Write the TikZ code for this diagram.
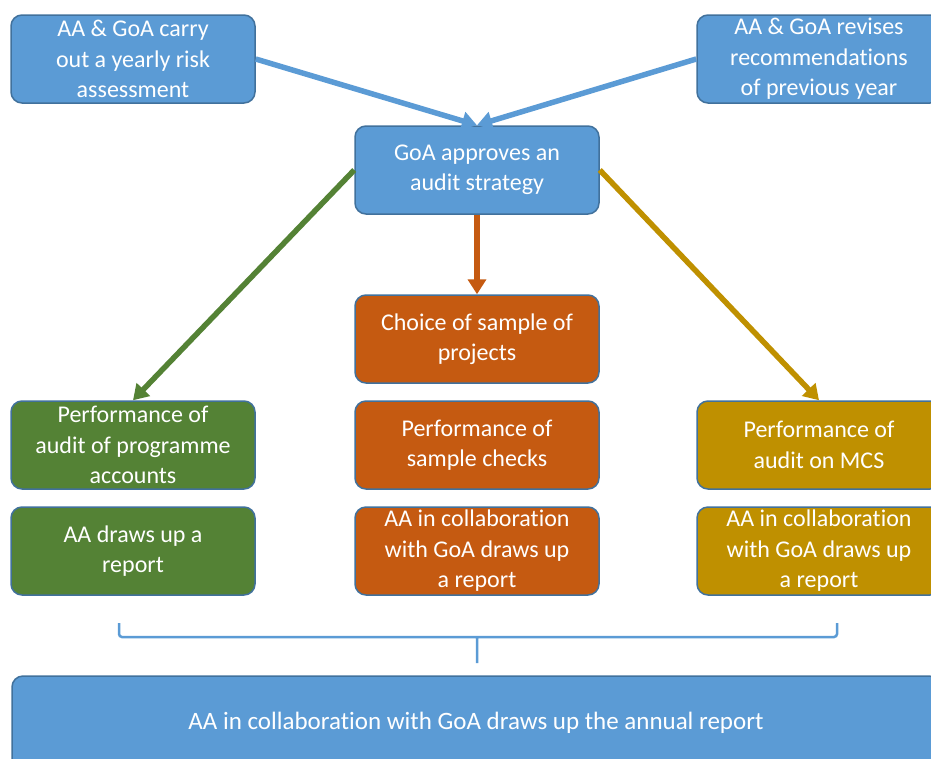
\documentclass[tikz,border=0pt]{standalone}
\usepackage{fontspec}
\setmainfont{Carlito}[Ligatures={NoCommon}]
\usetikzlibrary{arrows.meta,positioning}
\definecolor{accblue}{HTML}{5B9BD5}
\definecolor{accline}{HTML}{41719C}
\definecolor{accgreen}{HTML}{548235}
\definecolor{accorange}{HTML}{C55A11}
\definecolor{accgold}{HTML}{BF9000}
\tikzset{
    stage/.style={rectangle, rounded corners=11pt, draw=accline, line width=1.5pt,
        minimum width=244pt, minimum height=88pt, inner sep=0pt, align=center,
        text=white, font=\fontsize{24}{30.5}\selectfont},
    flow/.style={line width=5.5pt, -{Triangle[width=18pt,length=15pt]}}
}

\begin{document}
\begin{tikzpicture}[x=1pt, y=-1pt]
                        \useasboundingbox (0, 0) rectangle (931, 758);
                        \node[stage, fill=accblue] (risk) at (133, 59) {AA \& GoA carry\\out a yearly risk\\assessment};
                        \node[stage, fill=accblue] (revise) at (819, 59) {AA \& GoA revises\\recommendations\\of previous year};
                        \node[stage, fill=accblue] (strategy) at (477, 170) {GoA approves an\\audit strategy};
                        \node[stage, fill=accorange] (sample) at (477, 339) {Choice of sample of\\projects};
                        \node[stage, fill=accgreen] (progaudit) at (133, 445) {Performance of\\audit of programme\\accounts};
                        \node[stage, fill=accorange] (checks) at (477, 445) {Performance of\\sample checks};
                        \node[stage, fill=accgold] (mcsaudit) at (819, 445) {Performance of\\audit on MCS};
                        \node[stage, fill=accgreen] (progreport) at (133, 551) {AA draws up a\\report};
                        \node[stage, fill=accorange] (checkreport) at (477, 551) {AA in collaboration\\with GoA draws up\\a report};
                        \node[stage, fill=accgold] (mcsreport) at (819, 551) {AA in collaboration\\with GoA draws up\\a report};
                        \node[stage, fill=accblue, minimum width=928pt, minimum height=94pt,
                            font=\fontsize{25}{30}\selectfont] (annual) at (476, 723) {AA in collaboration with GoA draws up the annual report};
                        \draw[flow, accblue] (risk.east) -- (strategy.north);
                        \draw[flow, accblue] (revise.west) -- (strategy.north);
                        \draw[flow, accgreen] (strategy.west) -- (progaudit.north);
                        \draw[flow, accgold] (strategy.east) -- (mcsaudit.north);
                        \draw[flow, accorange] (strategy.south) -- (sample.north);
                        \draw[accblue, line width=2.5pt, rounded corners=3pt]
                        (119, 623) -- (119, 637) -- (837, 637) -- (837, 623)
                        (477, 637) -- (477, 663);
                    \end{tikzpicture}
\end{document}
